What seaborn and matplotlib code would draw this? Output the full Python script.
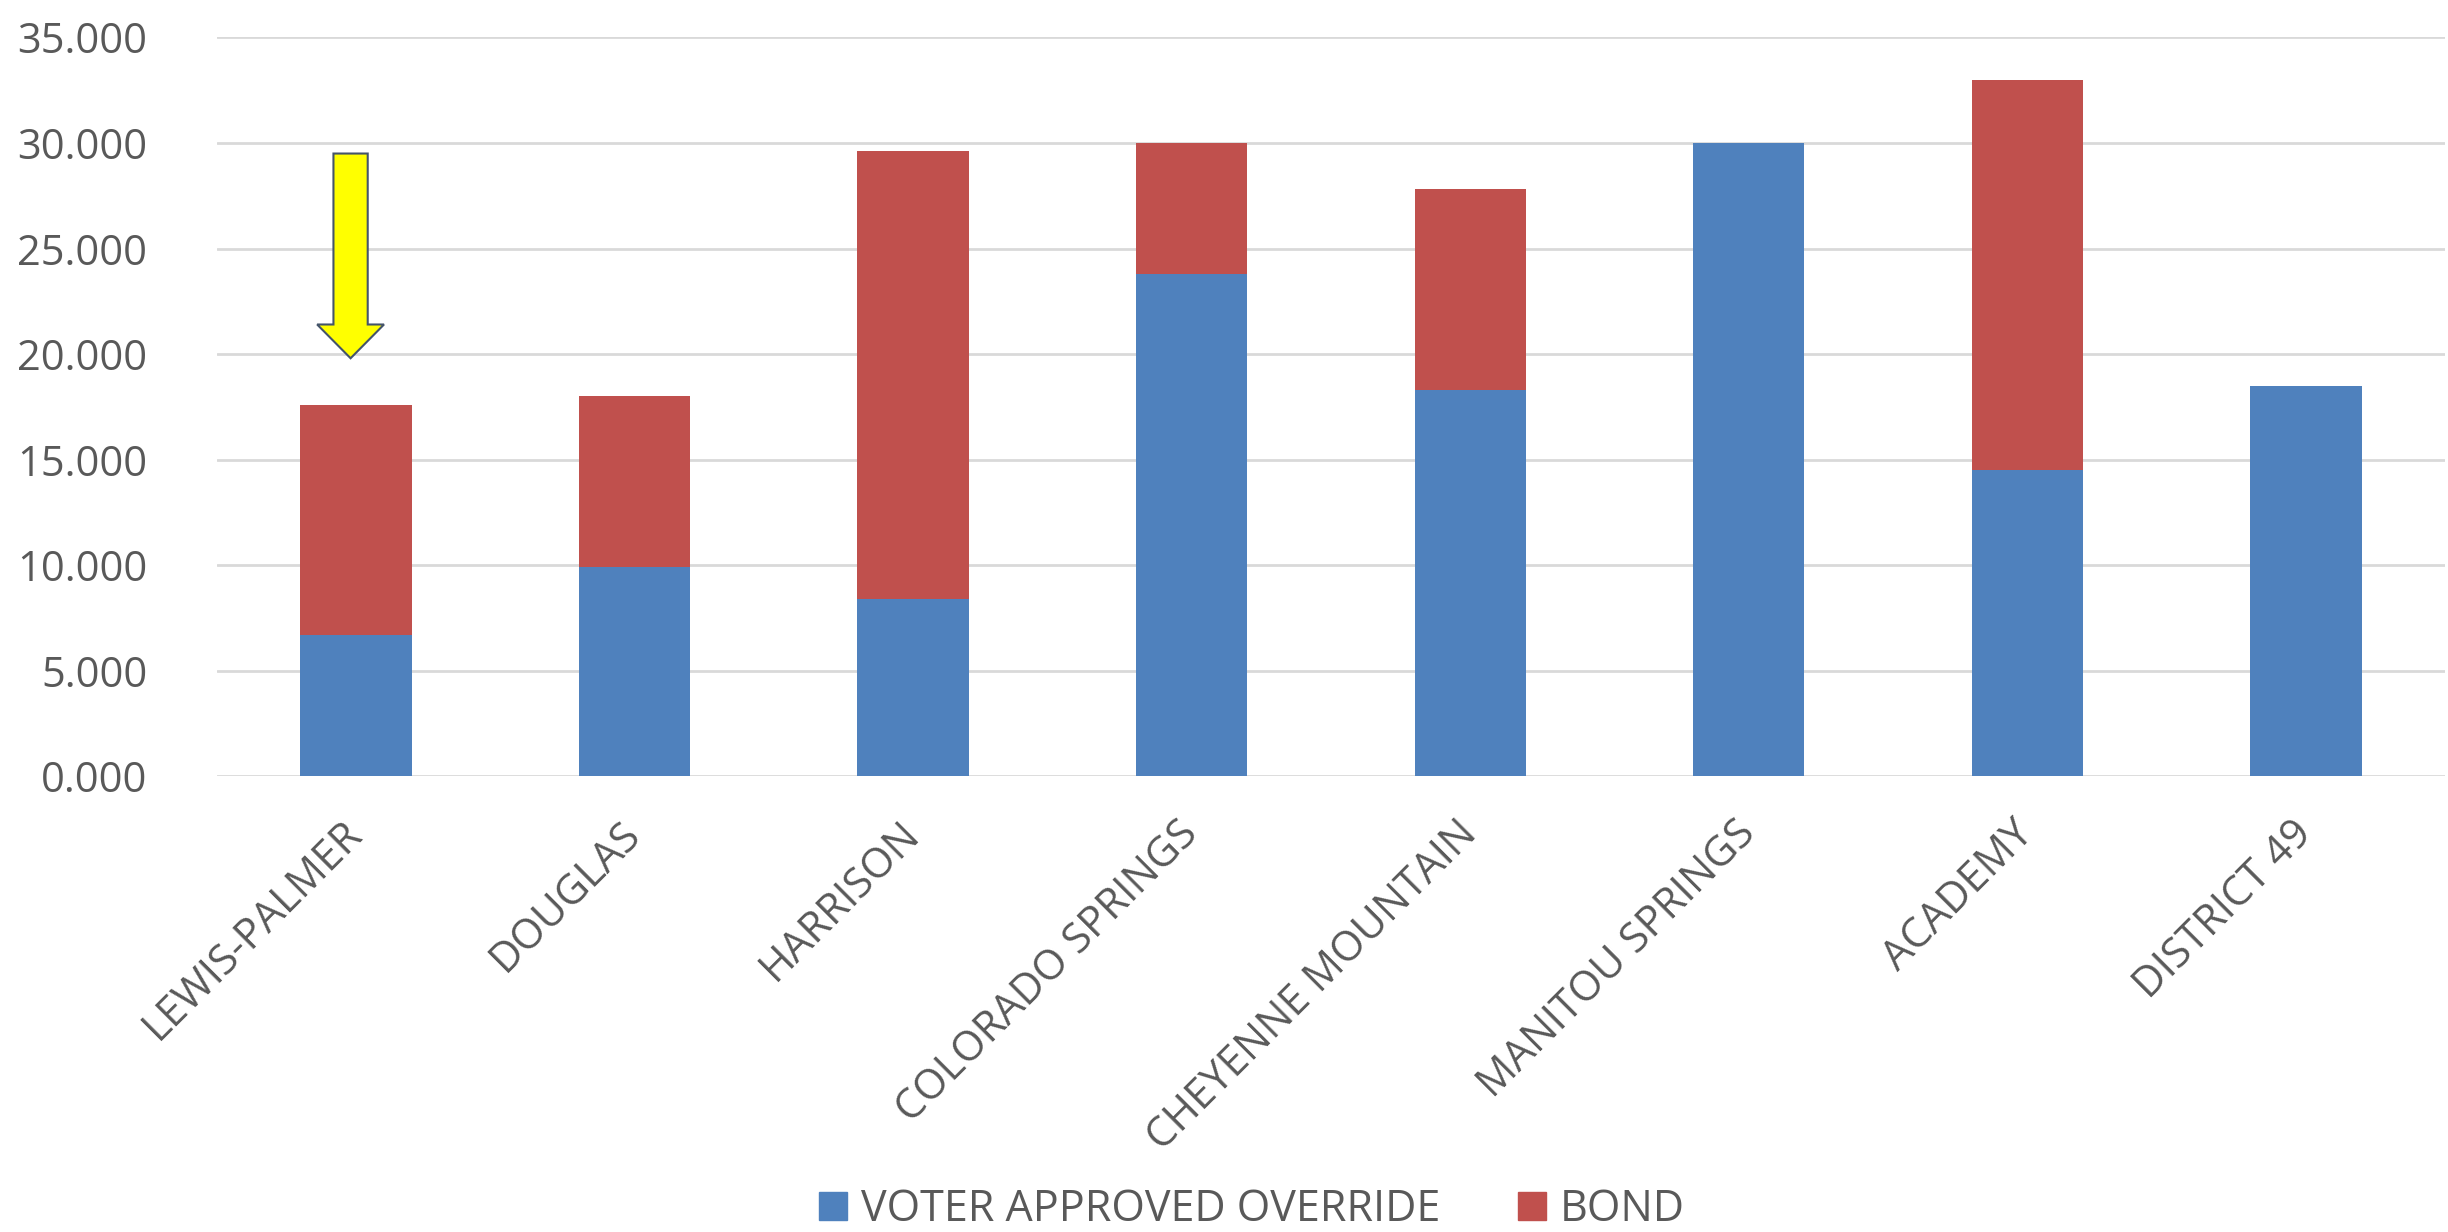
import matplotlib
matplotlib.use('Agg')
import matplotlib.pyplot as plt
import seaborn as sns
import pandas as pd
from matplotlib.patches import Patch, FancyArrow
from matplotlib.ticker import FuncFormatter

districts = ['LEWIS-PALMER', 'DOUGLAS', 'HARRISON', 'COLORADO SPRINGS',
             'CHEYENNE MOUNTAIN', 'MANITOU SPRINGS', 'ACADEMY', 'DISTRICT 49']
override = [6.7, 9.9, 8.4, 23.8, 18.3, 30.0, 14.5, 18.5]
bond = [10.9, 8.1, 21.2, 6.2, 9.5, 0.0, 18.5, 0.0]

blue = '#4F81BD'
red = '#C0504D'
text_gray = '#595959'

df = pd.DataFrame({'district': districts, 'override': override, 'bond': bond})
df['total'] = df['override'] + df['bond']

sns.set_style('white')
plt.rcParams['font.family'] = ['Open Sans', 'DejaVu Sans']

fig = plt.figure(figsize=(24.48, 12.32), dpi=100)
ax = fig.add_axes([0.0886, 0.370, 0.9102, 0.5996])

# stacked: totals in red, override drawn over in blue
sns.barplot(data=df, x='district', y='total', color=red, saturation=1,
            width=0.4, linewidth=0, ax=ax, zorder=3)
sns.barplot(data=df, x='district', y='override', color=blue, saturation=1,
            width=0.4, linewidth=0, ax=ax, zorder=3)

ax.set_ylim(0, 35)
ax.set_yticks(range(0, 36, 5))
ax.yaxis.set_major_formatter(FuncFormatter(lambda v, p: f'{v:.3f}'))
ax.set_xlim(-0.5, len(districts) - 0.5)
ax.grid(axis='y', color='#D9D9D9', linewidth=2, zorder=0)
for s in ax.spines.values():
    s.set_visible(False)
ax.set_xlabel('')
ax.set_ylabel('')
ax.tick_params(axis='both', length=0, colors=text_gray, labelsize=30)
ax.tick_params(axis='y', pad=50)
ax.tick_params(axis='x', pad=37)
plt.setp(ax.get_xticklabels(), rotation=45, ha='right', va='center',
         rotation_mode='anchor')

# yellow call-out arrow above Lewis-Palmer
arrow_x, arrow_top, arrow_tip = -0.02, 29.5, 19.8
ax.add_patch(FancyArrow(arrow_x, arrow_top, 0, arrow_tip - arrow_top,
                        width=0.123, head_width=0.24, head_length=1.6,
                        length_includes_head=True, facecolor='#FFFF00',
                        edgecolor='#44546A', linewidth=1.5, zorder=5))

handles = [Patch(color=blue, label='VOTER APPROVED OVERRIDE'),
           Patch(color=red, label='BOND')]
fig.legend(handles=handles, loc='center', bbox_to_anchor=(0.5115, 0.018),
           ncol=2, frameon=False, fontsize=31, labelcolor=text_gray,
           handlelength=0.65, handleheight=0.65, handletextpad=0.33,
           columnspacing=1.8)

fig.savefig('out.png', dpi=100)
